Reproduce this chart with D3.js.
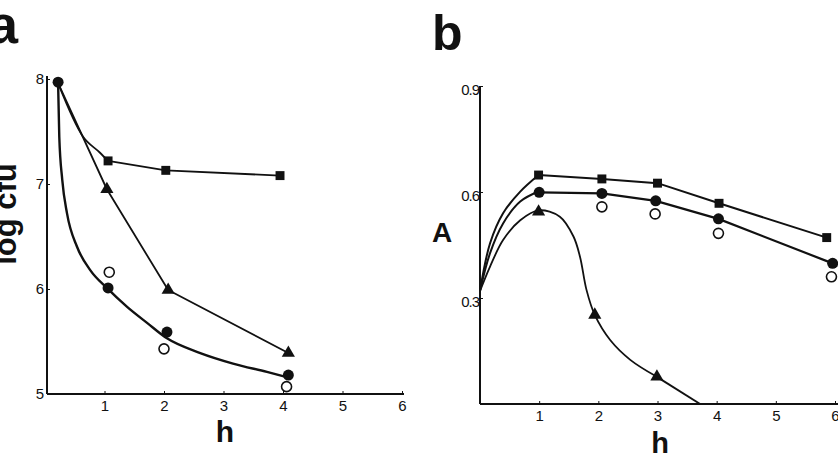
<!DOCTYPE html>
<html>
<head>
<meta charset="utf-8">
<script src="https://cdn.jsdelivr.net/npm/d3@7"></script>
<style>
  body { margin: 0; background: #fff; }
  svg { display: block; font-family: "Liberation Sans", Arial, sans-serif; }
  .axis path, .axis line { stroke: #111; }
  .axis text { font-size: 15px; fill: #111; }
</style>
</head>
<body>
<svg id="chart" width="838" height="458"></svg>
<script>
// panel a: log cfu vs h
const A_X_TICKS = [1, 2, 3, 4, 5, 6];
const A_Y_TICKS = [5, 6, 7, 8];
const A_START = [[0.22, 7.97]];
const A_CIRCLE = [[1.06, 6.01], [2.05, 5.59], [4.09, 5.18]];
const A_OPEN = [[1.08, 6.16], [2.0, 5.43], [4.06, 5.07]];
const A_SQUARE = [[1.06, 7.22], [2.03, 7.13], [3.95, 7.08]];
const A_TRIANGLE = [[1.04, 6.95], [2.07, 5.99], [4.09, 5.39]];
// drawn curves
const A_CIRCLE_CURVE = [[0.22, 7.96], [0.24, 7.45], [0.29, 7.04], [0.37, 6.72], [0.54, 6.40],
  [0.76, 6.18], [1.04, 6.01], [1.38, 5.83], [1.71, 5.68], [2.05, 5.53], [2.61, 5.39],
  [3.16, 5.29], [3.73, 5.21], [4.07, 5.16]];
const A_SQUARE_LEAD = [[0.22, 7.96], [0.64, 7.45], [0.92, 7.30], [1.06, 7.22]];
const A_TRIANGLE_LINE = [[0.22, 7.96], [1.04, 6.95], [2.07, 5.99], [4.09, 5.39]];

// panel b: A vs h
const B_X_TICKS = [1, 2, 3, 4, 5, 6];
const B_Y_TICKS = [0.3, 0.6, 0.9];
const B_SQUARE = [[0.99, 0.648], [2.06, 0.637], [3.0, 0.625], [4.04, 0.568], [5.86, 0.471]];
const B_CIRCLE = [[1.0, 0.599], [2.06, 0.596], [2.97, 0.575], [4.03, 0.524], [5.96, 0.398]];
const B_OPEN = [[2.06, 0.558], [2.96, 0.538], [4.03, 0.483], [5.94, 0.36]];
const B_TRIANGLE = [[0.99, 0.544], [1.94, 0.252], [2.99, 0.077]];
const B_SQUARE_LEAD = [[0, 0.32], [0.17, 0.455], [0.39, 0.54], [0.68, 0.601], [0.99, 0.648]];
const B_CIRCLE_LEAD = [[0, 0.32], [0.17, 0.427], [0.39, 0.511], [0.68, 0.573], [1.0, 0.602]];
const B_TRIANGLE_CURVE = [[0, 0.32], [0.17, 0.389], [0.39, 0.464], [0.68, 0.52], [0.99, 0.548],
  [1.35, 0.53], [1.58, 0.474], [1.69, 0.417], [1.80, 0.323], [1.94, 0.252], [2.2, 0.181],
  [2.54, 0.125], [2.99, 0.077]];
const B_TRIANGLE_TAIL = [[2.99, 0.077], [3.72, 0]];

const INK = '#111';
const svg = d3.select('#chart');

function drawMarkers(g, x, y, data, kind) {
  const sel = g.append('g');
  if (kind === 'circle' || kind === 'open') {
    sel.selectAll('circle').data(data).join('circle')
      .attr('cx', d => x(d[0])).attr('cy', d => y(d[1]))
      .attr('r', kind === 'open' ? 5 : 5.5)
      .attr('fill', kind === 'open' ? '#fff' : INK)
      .attr('stroke', INK).attr('stroke-width', kind === 'open' ? 1.6 : 0);
  } else {
    const sym = kind === 'square' ? d3.symbolSquare : d3.symbolTriangle;
    const size = kind === 'square' ? 80 : 75;
    sel.selectAll('path').data(data).join('path')
      .attr('transform', d => `translate(${x(d[0])},${y(d[1])})`)
      .attr('d', d3.symbol(sym, size))
      .attr('fill', INK);
  }
}

function drawLine(g, x, y, data, curve, width) {
  g.append('path').datum(data)
    .attr('fill', 'none').attr('stroke', INK).attr('stroke-width', width)
    .attr('stroke-linejoin', 'round')
    .attr('d', d3.line().x(d => x(d[0])).y(d => y(d[1])).curve(curve));
}

// ---- panel a
{
  const x = d3.scaleLinear().domain([0, 6]).range([45, 402]);
  const y = d3.scaleLinear().domain([5, 8]).range([394, 79]);
  const g = svg.append('g');

  g.append('g').attr('class', 'axis')
    .attr('transform', `translate(0,${y(5)})`)
    .call(d3.axisBottom(x).tickValues(A_X_TICKS).tickFormat(d3.format('d'))
      .tickSize(-3).tickSizeOuter(0).tickPadding(6))
    .call(s => s.select('.domain').attr('d', `M${x(0) + 2},0H${x(6) + 2}`).attr('stroke-width', 2));

  g.append('g').attr('class', 'axis')
    .attr('transform', `translate(${x(0) + 2},0)`)
    .call(d3.axisLeft(y).tickValues(A_Y_TICKS).tickFormat(d3.format('d'))
      .tickSize(-3).tickSizeOuter(0).tickPadding(3))
    .call(s => s.select('.domain').attr('d', `M0,${y(8) - 3}V${y(5)}`).attr('stroke-width', 2));

  drawLine(g, x, y, A_CIRCLE_CURVE, d3.curveMonotoneX, 2.4);
  drawLine(g, x, y, A_SQUARE_LEAD, d3.curveMonotoneX, 1.8);
  drawLine(g, x, y, A_SQUARE, d3.curveLinear, 1.8);
  drawLine(g, x, y, A_TRIANGLE_LINE, d3.curveLinear, 1.8);

  drawMarkers(g, x, y, A_SQUARE, 'square');
  drawMarkers(g, x, y, A_TRIANGLE, 'triangle');
  drawMarkers(g, x, y, A_OPEN, 'open');
  drawMarkers(g, x, y, A_CIRCLE.concat(A_START), 'circle');

  g.append('text').attr('x', -12).attr('y', 43)
    .attr('font-size', 54).attr('font-weight', 'bold').attr('fill', INK).text('a');
  g.append('text').attr('transform', 'translate(16,214) rotate(-90)')
    .attr('text-anchor', 'middle')
    .attr('font-size', 31).attr('font-weight', 'bold').attr('fill', INK).text('log cfu');
  g.append('text').attr('x', 225).attr('y', 442).attr('text-anchor', 'middle')
    .attr('font-size', 30).attr('font-weight', 'bold').attr('fill', INK).text('h');
}

// ---- panel b
{
  const x = d3.scaleLinear().domain([0, 6]).range([480, 835]);
  const y = d3.scaleLinear().domain([0, 0.9]).range([404, 86]);
  const g = svg.append('g');

  g.append('g').attr('class', 'axis')
    .attr('transform', `translate(0,${y(0)})`)
    .call(d3.axisBottom(x).tickValues(B_X_TICKS).tickFormat(d3.format('d'))
      .tickSize(-3).tickSizeOuter(0).tickPadding(6))
    .call(s => s.select('.domain').attr('d', `M${x(0)},0H838`).attr('stroke-width', 2));

  g.append('g').attr('class', 'axis')
    .attr('transform', `translate(${x(0)},0)`)
    .call(d3.axisLeft(y).tickValues(B_Y_TICKS).tickSize(-3).tickSizeOuter(0).tickPadding(1)
      .tickFormat(d3.format('.1f')))
    .call(s => s.select('.domain').attr('d', `M0,${y(0.9)}V${y(0)}`).attr('stroke-width', 2))
    .call(s => s.selectAll('.tick text').attr('font-size', 13).attr('letter-spacing', -1).attr('dy', '0.55em'));

  drawLine(g, x, y, B_SQUARE_LEAD, d3.curveCatmullRom, 2);
  drawLine(g, x, y, B_SQUARE, d3.curveLinear, 2);
  drawLine(g, x, y, B_CIRCLE_LEAD, d3.curveCatmullRom, 2);
  drawLine(g, x, y, B_CIRCLE, d3.curveLinear, 2.2);
  drawLine(g, x, y, B_TRIANGLE_CURVE, d3.curveCatmullRom, 1.8);
  drawLine(g, x, y, B_TRIANGLE_TAIL, d3.curveLinear, 2);

  drawMarkers(g, x, y, B_SQUARE, 'square');
  drawMarkers(g, x, y, B_TRIANGLE, 'triangle');
  drawMarkers(g, x, y, B_OPEN, 'open');
  drawMarkers(g, x, y, B_CIRCLE, 'circle');

  g.append('text').attr('x', 432).attr('y', 50)
    .attr('font-size', 50).attr('font-weight', 'bold').attr('fill', INK).text('b');
  g.append('text').attr('x', 442).attr('y', 242).attr('text-anchor', 'middle')
    .attr('font-size', 28).attr('font-weight', 'bold').attr('fill', INK).text('A');
  g.append('text').attr('x', 660).attr('y', 453).attr('text-anchor', 'middle')
    .attr('font-size', 29).attr('font-weight', 'bold').attr('fill', INK).text('h');
}
</script>
</body>
</html>
